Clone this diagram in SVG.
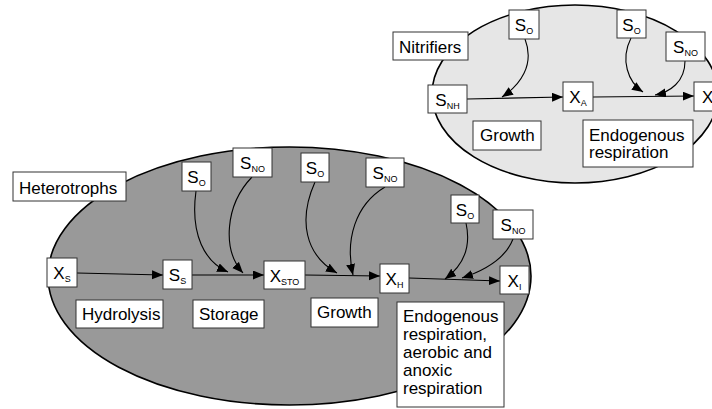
<svg xmlns="http://www.w3.org/2000/svg" width="712" height="409" viewBox="0 0 712 409">
<defs>
<marker id="ah" markerUnits="userSpaceOnUse" markerWidth="12" markerHeight="10" refX="11" refY="4.5" orient="auto">
<path d="M0,0 L11,4.5 L0,9 Z" fill="#000"/>
</marker>
<style>
.box{fill:#fff;stroke:#333;stroke-width:1}
.t{font-family:"Liberation Sans",Arial,sans-serif;font-size:17px;fill:#000}
.s{font-size:9px}
.c{fill:none;stroke:#000;stroke-width:1.1;marker-end:url(#ah)}
.ell{stroke:#000;stroke-width:1.6}
</style>
</defs>
<rect width="712" height="409" fill="#fff"/>
<ellipse class="ell" cx="575" cy="94" rx="143" ry="89" fill="#e6e6e6"/>
<ellipse class="ell" cx="289.5" cy="276" rx="241.5" ry="129" fill="#999999"/>

<g id="connectors">
<path class="c" d="M77,273 L163,275"/>
<path class="c" d="M192,275 L264,275"/>
<path class="c" d="M196,191 C190,235 205,262 228,272"/>
<path class="c" d="M252,177 C225,205 222,250 243,273"/>
<path class="c" d="M305,275 L380,276"/>
<path class="c" d="M315,182 C298,220 305,255 337,273"/>
<path class="c" d="M385,187 C355,205 345,240 353,275"/>
<path class="c" d="M409,278 L500,281"/>
<path class="c" d="M466,223 C472,250 460,268 445,279"/>
<path class="c" d="M513,239 C505,260 480,272 462,278"/>
<path class="c" d="M467,99 L563,97"/>
<path class="c" d="M593,97 L694,96"/>
<path class="c" d="M525,39 C535,65 520,85 502,97"/>
<path class="c" d="M631,38 C620,60 628,82 643,92"/>
<path class="c" d="M685,61 C685,82 670,92 655,95"/>
</g>

<g id="nitrifiers"><rect class="box" x="393" y="32" width="75" height="28"/><text class="t" x="399" y="53">Nitrifiers</text></g>
<g id="n_so1"><rect class="box" x="509" y="10" width="30" height="29"/><text class="t" x="524" y="31" text-anchor="middle">S<tspan class="s" dy="3">O</tspan></text></g>
<g id="n_so2"><rect class="box" x="617" y="10" width="29" height="28"/><text class="t" x="631.5" y="31" text-anchor="middle">S<tspan class="s" dy="3">O</tspan></text></g>
<g id="n_sno"><rect class="box" x="666" y="32" width="39" height="29"/><text class="t" x="685.5" y="53" text-anchor="middle">S<tspan class="s" dy="3">NO</tspan></text></g>
<g id="n_snh"><rect class="box" x="428" y="85" width="39" height="28"/><text class="t" x="447.5" y="106" text-anchor="middle">S<tspan class="s" dy="3">NH</tspan></text></g>
<g id="n_xa"><rect class="box" x="563" y="82" width="30" height="29"/><text class="t" x="578" y="103" text-anchor="middle">X<tspan class="s" dy="3">A</tspan></text></g>
<g id="n_xi"><rect class="box" x="694" y="82" width="30" height="29"/><text class="t" x="709" y="103" text-anchor="middle">X<tspan class="s" dy="3">I</tspan></text></g>
<g id="n_growth"><rect class="box" x="473" y="121" width="68" height="29"/><text class="t" x="480" y="141">Growth</text></g>
<g id="n_endo"><rect class="box" x="583" y="120" width="110" height="47"/><text class="t" x="589" y="141">Endogenous</text><text class="t" x="589" y="158">respiration</text></g>

<g id="heterotrophs"><rect class="box" x="13" y="172" width="113" height="29"/><text class="t" x="19" y="194">Heterotrophs</text></g>
<g id="h_so1"><rect class="box" x="182" y="162" width="29" height="29"/><text class="t" x="196.5" y="183" text-anchor="middle">S<tspan class="s" dy="3">O</tspan></text></g>
<g id="h_sno1"><rect class="box" x="233" y="148" width="39" height="29"/><text class="t" x="252.5" y="169" text-anchor="middle">S<tspan class="s" dy="3">NO</tspan></text></g>
<g id="h_so2"><rect class="box" x="301" y="153" width="28" height="29"/><text class="t" x="315" y="174" text-anchor="middle">S<tspan class="s" dy="3">O</tspan></text></g>
<g id="h_sno2"><rect class="box" x="366" y="158" width="38" height="29"/><text class="t" x="385" y="179" text-anchor="middle">S<tspan class="s" dy="3">NO</tspan></text></g>
<g id="h_so3"><rect class="box" x="451" y="195" width="28" height="28"/><text class="t" x="465" y="216" text-anchor="middle">S<tspan class="s" dy="3">O</tspan></text></g>
<g id="h_sno3"><rect class="box" x="493" y="210" width="40" height="29"/><text class="t" x="513" y="231" text-anchor="middle">S<tspan class="s" dy="3">NO</tspan></text></g>
<g id="h_xs"><rect class="box" x="47" y="258" width="30" height="29"/><text class="t" x="62" y="279" text-anchor="middle">X<tspan class="s" dy="3">S</tspan></text></g>
<g id="h_ss"><rect class="box" x="163" y="260" width="29" height="29"/><text class="t" x="177.5" y="281" text-anchor="middle">S<tspan class="s" dy="3">S</tspan></text></g>
<g id="h_xsto"><rect class="box" x="264" y="261" width="41" height="28"/><text class="t" x="284.5" y="282" text-anchor="middle">X<tspan class="s" dy="3">STO</tspan></text></g>
<g id="h_xh"><rect class="box" x="380" y="264" width="29" height="29"/><text class="t" x="394.5" y="285" text-anchor="middle">X<tspan class="s" dy="3">H</tspan></text></g>
<g id="h_xi"><rect class="box" x="500" y="266" width="29" height="28"/><text class="t" x="514.5" y="287" text-anchor="middle">X<tspan class="s" dy="3">I</tspan></text></g>
<g id="h_hydrolysis"><rect class="box" x="76" y="300" width="87" height="28"/><text class="t" x="82" y="320">Hydrolysis</text></g>
<g id="h_storage"><rect class="box" x="193" y="300" width="71" height="28"/><text class="t" x="199" y="320">Storage</text></g>
<g id="h_growth"><rect class="box" x="311" y="298" width="67" height="29"/><text class="t" x="317" y="318">Growth</text></g>
<g id="h_endo"><rect class="box" x="397" y="302" width="107" height="105"/>
<text class="t" x="403" y="322">Endogenous</text>
<text class="t" x="403" y="340">respiration,</text>
<text class="t" x="403" y="358">aerobic and</text>
<text class="t" x="403" y="376">anoxic</text>
<text class="t" x="403" y="394">respiration</text></g>
</svg>
